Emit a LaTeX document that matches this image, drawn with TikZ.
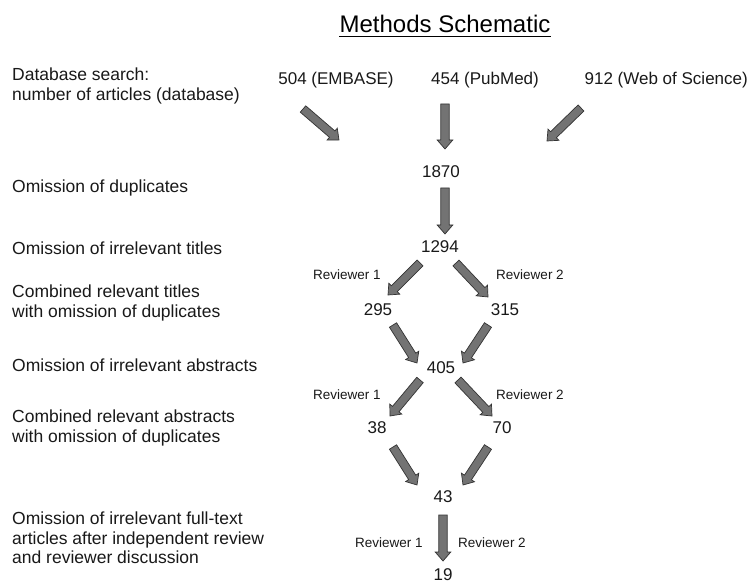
\documentclass[tikz,border=0pt]{standalone}
\usepackage{fontspec}
\setmainfont{Liberation Sans}
\usetikzlibrary{calc}
\tikzset{
  txt/.style={font=\fontsize{17}{19.5}\selectfont, inner sep=0pt, text=black!90},
  side/.style={font=\fontsize{17.5}{19.5}\selectfont, inner sep=0pt, text=black!90, anchor=west, align=left},
  num/.style={txt},
  rev/.style={font=\fontsize{13.5}{16}\selectfont, inner sep=0pt, text=black!90},
  barrow/.style={draw=black!80, fill=black!55, line width=0.7pt, line join=miter,
    to path={let \p1=(\tikztostart), \p2=(\tikztotarget), \n1={atan2(\y2-\y1,\x2-\x1)} in
      ($(\p1)+({\n1+90}:4.2pt)$) -- ($(\p2)+({\n1+180}:9pt)+({\n1+90}:4.2pt)$)
      -- ($(\p2)+({\n1+180}:9pt)+({\n1+90}:7.8pt)$) -- (\p2)
      -- ($(\p2)+({\n1+180}:9pt)+({\n1-90}:7.8pt)$) -- ($(\p2)+({\n1+180}:9pt)+({\n1-90}:4.2pt)$)
      -- ($(\p1)+({\n1-90}:4.2pt)$) -- cycle}}
}
\begin{document}
\begin{tikzpicture}[x=1pt,y=-1pt]
\useasboundingbox[fill=white] (0,0) rectangle (750,585);
% title
\node[font=\fontsize{24}{28}\selectfont, inner sep=0pt, anchor=base] (title) at (445,33) {Methods Schematic};
\draw[line width=1pt] ($(title.base west)+(0,3.5)$) -- ($(title.base east)+(0,3.5)$);
% left labels
\node[side] (l1) at (12,86) {Database search:\\number of articles (database)};
\node[side] (l2) at (12,188) {Omission of duplicates};
\node[side] (l3) at (12,248) {Omission of irrelevant titles};
\node[side] (l4) at (12,303) {Combined relevant titles\\with omission of duplicates};
\node[side] (l5) at (12,365) {Omission of irrelevant abstracts};
\node[side] (l6) at (12,428) {Combined relevant abstracts\\with omission of duplicates};
\node[side] (l7) at (12,538) {Omission of irrelevant full-text\\articles after independent review\\and reviewer discussion};
% numbers
\node[num] (emb) at (336,80) {504 (EMBASE)};
\node[num] (pub) at (485,80) {454 (PubMed)};
\node[num, anchor=east] (wos) at (748,80) {912 (Web of Science)};
\node[num] (n1870) at (441,172) {1870};
\node[num] (n1294) at (440,247) {1294};
\node[num] (n295) at (378,310) {295};
\node[num] (n315) at (505,310) {315};
\node[num] (n405) at (441,368) {405};
\node[num] (n38) at (377,428) {38};
\node[num] (n70) at (502,428) {70};
\node[num] (n43) at (443,497) {43};
\node[num] (n19) at (443,575) {19};
% reviewer labels
\node[rev] (r1a) at (347,275) {Reviewer 1};
\node[rev] (r2a) at (530,275) {Reviewer 2};
\node[rev] (r1b) at (347,395) {Reviewer 1};
\node[rev] (r2b) at (530,395) {Reviewer 2};
\node[rev] (r1c) at (389,543) {Reviewer 1};
\node[rev] (r2c) at (492,543) {Reviewer 2};
% arrow end points
\coordinate (a1s) at (303,109); \coordinate (a1e) at (339,140);
\coordinate (a2s) at (445,104); \coordinate (a2e) at (445,149);
\coordinate (a3s) at (581,108); \coordinate (a3e) at (547,141);
\coordinate (a4s) at (445,188); \coordinate (a4e) at (445,234);
\coordinate (a5s) at (420,263); \coordinate (a5e) at (388,295);
\coordinate (a6s) at (456,263); \coordinate (a6e) at (488,297);
\coordinate (a7s) at (393,325); \coordinate (a7e) at (417,363);
\coordinate (a8s) at (488,325); \coordinate (a8e) at (463,363);
\coordinate (a9s) at (420,380); \coordinate (a9e) at (390,416);
\coordinate (a10s) at (458,380); \coordinate (a10e) at (492,416);
\coordinate (a11s) at (393,447); \coordinate (a11e) at (417,485);
\coordinate (a12s) at (488,447); \coordinate (a12e) at (463,485);
\coordinate (a13s) at (443,515); \coordinate (a13e) at (443,561);
% arrows
\foreach \i in {1,...,13} {\path[barrow] (a\i s) to (a\i e);}
\end{tikzpicture}
\end{document}
